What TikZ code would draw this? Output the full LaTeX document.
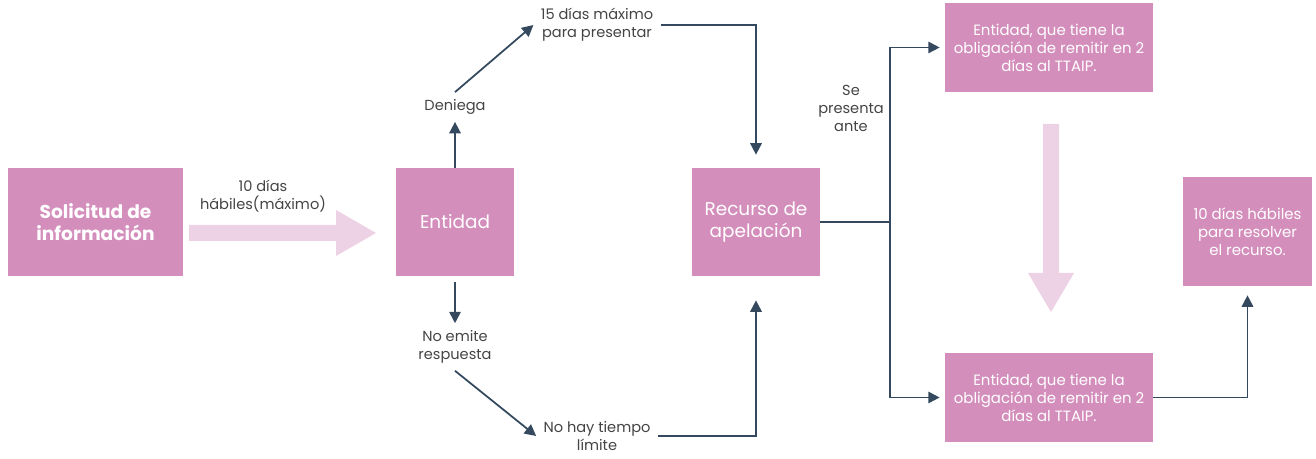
\documentclass[tikz,border=0pt]{standalone}
\usepackage{fontspec}
\setmainfont{Poppins}
\usepackage{tikz}
\usetikzlibrary{arrows.meta, shapes, positioning}
\definecolor{cajarosa}{RGB}{212,142,188}
\definecolor{rosaclaro}{RGB}{237,209,228}
\definecolor{azuloscuro}{RGB}{52,73,94}
\definecolor{textogris}{RGB}{68,68,68}

\begin{document}
\begin{tikzpicture}[x=0.02cm, y=-0.02cm, >={Triangle[length=6.5pt,width=6.5pt]},
        caja/.style={fill=cajarosa, text=white, align=center, inner sep=2pt,
                font=\fontsize{10.5}{12.2}\selectfont},
        cajachica/.style={caja, minimum width=4.16cm, minimum height=1.78cm,
                font=\fontsize{8.5}{10.3}\selectfont},
        etiqueta/.style={text=textogris, align=center, inner sep=4pt,
                font=\fontsize{8.3}{10.2}\selectfont},
        linea/.style={draw=azuloscuro, line width=1pt, ->}]
        \useasboundingbox (0,0) rectangle (1316,459);

        % cajas
        \node[caja, minimum width=3.5cm, minimum height=2.16cm, font=\fontsize{10.6}{12.4}\selectfont\bfseries]
                (solicitud) at (95.5,222) {Solicitud de\\información};
        \node[caja, minimum width=2.36cm, minimum height=2.16cm] (entidad) at (455,222) {Entidad};
        \node[caja, minimum width=2.56cm, minimum height=2.16cm] (recurso) at (756,222) {Recurso de\\apelación};
        \node[cajachica] (arriba) at (1049,47.5) {Entidad, que tiene la\\obligación de remitir en 2\\días al TTAIP.};
        \node[cajachica] (abajo) at (1049,397.5) {Entidad, que tiene la\\obligación de remitir en 2\\días al TTAIP.};
        \node[cajachica, minimum width=2.58cm, minimum height=2.18cm] (diez) at (1247.5,231.5)
                {10 días hábiles\\para resolver\\el recurso.};

        % etiquetas
        \node[etiqueta] (plazo) at (263,196) {10 días\\hábiles(máximo)};
        \node[etiqueta] (deniega) at (455,107) {Deniega};
        \node[etiqueta] (quince) at (597,25) {15 días máximo\\para presentar};
        \node[etiqueta] (noemite) at (455,347) {No emite\\respuesta};
        \node[etiqueta] (nohay) at (597,436) {No hay tiempo\\límite};
        \node[etiqueta] (presenta) at (851,108) {Se\\presenta\\ante};

        % flechas anchas
        \fill[rosaclaro] (189,225) -- (336,225) -- (336,210) -- (376,233) -- (336,256)
                -- (336,241) -- (189,241) -- cycle;
        \fill[rosaclaro] (1043,124) -- (1059,124) -- (1059,273) -- (1074,273) -- (1051,312)
                -- (1028,273) -- (1043,273) -- cycle;

        % conectores
        \draw[linea] (entidad) -- (deniega);
        \draw[linea] (deniega.north) -- (quince.west);
        \draw[linea, shorten >=0.26cm] (quince.east) -| (recurso.north);
        \draw[linea, shorten <=0.12cm] (entidad.south) -- (noemite.north);
        \draw[linea] (noemite.south) -- (nohay.west);
        \draw[linea, shorten >=0.48cm] (nohay.east) -| (recurso.south);
        \draw[linea, shorten >=0.1cm] (recurso.east) -- ++(70,0) |- (arriba.west);
        \draw[linea, shorten >=0.1cm] (recurso.east) -- ++(70,0) |- (abajo.west);
        \draw[linea, shorten >=0.18cm] (abajo.east) -| (diez.south);
\end{tikzpicture}
\end{document}
